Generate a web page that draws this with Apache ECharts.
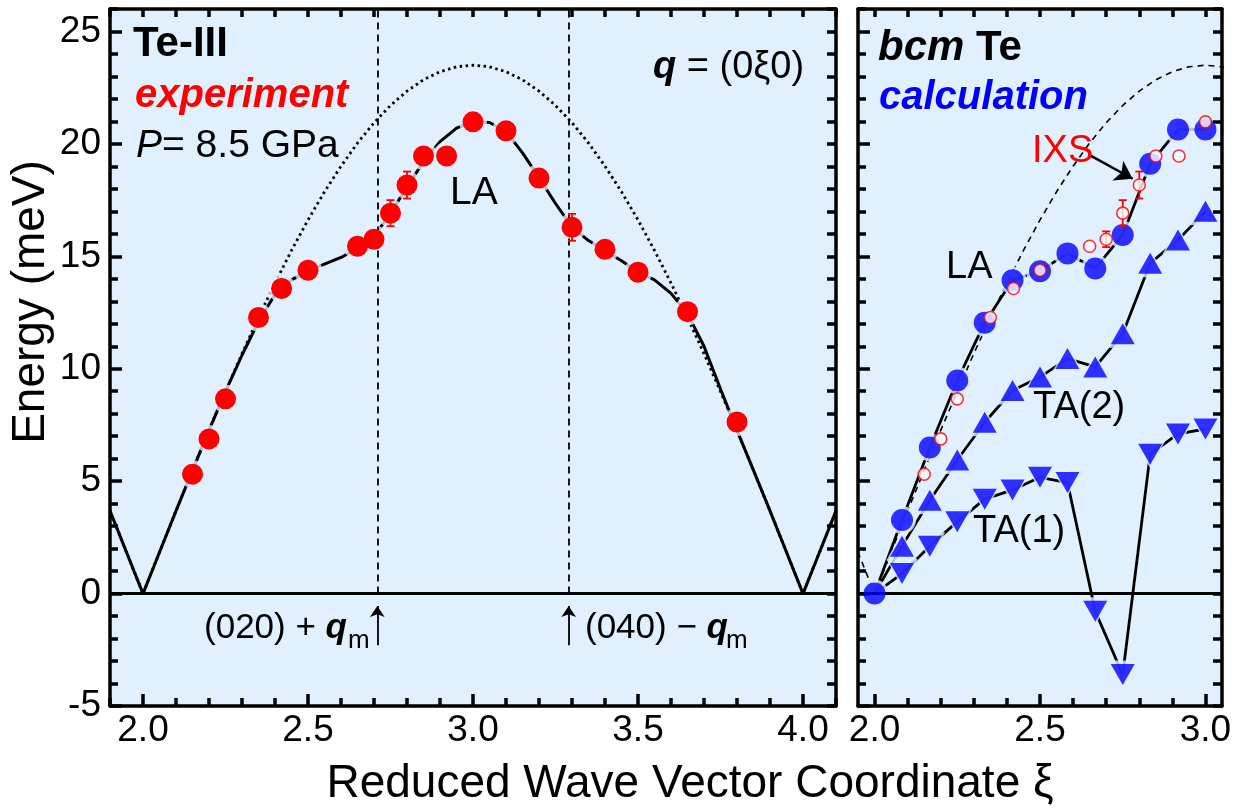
<!DOCTYPE html>
<html>
<head>
<meta charset="utf-8">
<script src="https://cdn.jsdelivr.net/npm/echarts@6/dist/echarts.min.js"></script>
<style>
  html, body { margin: 0; padding: 0; background: #fff; }
  #chart { width: 1237px; height: 809px; }
</style>
</head>
<body>
<div id="chart"></div>
<script>
// Te-III, IXS experiment at 8.5 GPa
const expXi  = [2.15, 2.2, 2.25, 2.35, 2.42, 2.5, 2.65, 2.7, 2.75, 2.8, 2.85, 2.92, 3.0, 3.1, 3.2, 3.3, 3.4, 3.5, 3.65, 3.8];
const expE   = [5.31, 6.88, 8.66, 12.28, 13.57, 14.38, 15.45, 15.76, 16.92, 18.17, 19.46, 19.46, 20.98, 20.58, 18.48, 16.29, 15.31, 14.29, 12.54, 7.63];
const expErr = [0, 0, 0, 0, 0, 0, 0, 0.35, 0.58, 0.6, 0, 0, 0, 0, 0, 0.6, 0, 0, 0.35, 0];

// LA line drawn through the experiment
const fitXi = [1.9, 2.0, 2.05, 2.1, 2.15, 2.2, 2.25, 2.3, 2.35, 2.4, 2.45, 2.5, 2.55, 2.6, 2.65, 2.7, 2.75, 2.8, 2.85, 2.9, 2.95, 3.0,
               3.05, 3.1, 3.15, 3.2, 3.25, 3.3, 3.35, 3.4, 3.45, 3.5, 3.55, 3.6, 3.65, 3.7, 3.75, 3.8, 3.85, 3.9, 3.95, 4.0, 4.05, 4.1];
const fitE  = [3.68, 0, 1.84, 3.68, 5.48, 7.26, 8.99, 10.6, 12.1, 13.3, 13.95, 14.35, 14.65, 14.95, 15.35, 15.9, 16.9, 18.1, 19.2, 20.1, 20.7, 21.0,
               20.95, 20.55, 19.6, 18.5, 17.35, 16.3, 15.7, 15.25, 14.8, 14.3, 13.95, 13.35, 12.45, 11.0, 9.1, 7.26, 5.48, 3.68, 1.84, 0, 1.84, 3.68];

// dotted (left) / dashed (right) reference dispersion
const sinXi = [1.9, 1.95, 2.0, 2.05, 2.1, 2.15, 2.2, 2.25, 2.3, 2.35, 2.4, 2.45, 2.5, 2.55, 2.6, 2.65, 2.7, 2.75, 2.8, 2.85, 2.9, 2.95, 3.0,
               3.05, 3.1, 3.15, 3.2, 3.25, 3.3, 3.35, 3.4, 3.45, 3.5, 3.55, 3.6, 3.65, 3.7, 3.75, 3.8, 3.85, 3.9, 3.95, 4.0, 4.05, 4.1];
const sinE  = [3.68, 1.84, 0, 1.84, 3.68, 5.48, 7.26, 8.99, 10.67, 12.28, 13.81, 15.26, 16.62, 17.87, 19.01, 20.04, 20.94, 21.71, 22.35, 22.85, 23.21, 23.43, 23.5,
               23.43, 23.21, 22.85, 22.35, 21.71, 20.94, 20.04, 19.01, 17.87, 16.62, 15.26, 13.81, 12.28, 10.67, 8.99, 7.26, 5.48, 3.68, 1.84, 0, 1.84, 3.68];

// bcm Te calculation
const calcXi  = [2.0, 2.083, 2.167, 2.25, 2.333, 2.417, 2.5, 2.583, 2.667, 2.75, 2.833, 2.917, 3.0];
const calcLA  = [0, 3.27, 6.5, 9.48, 12.05, 13.94, 14.34, 15.13, 14.46, 15.95, 19.12, 20.64, 20.64];
const calcTA2 = [0, 2.11, 4.15, 5.94, 7.62, 9.03, 9.63, 10.45, 10.08, 11.56, 14.69, 15.73, 17.0];
const calcTA1 = [0, 0.89, 2.11, 3.2, 4.2, 4.61, 5.17, 4.94, -0.79, -3.6, 6.2, 7.1, 7.32];

// (020)+qm and (040)-qm markers, IXS arrow
const qmXi = [2.71, 3.29];
const qmArrowE = [-2.3, -0.55];
const ixsArrow = [[2.65, 19.5], [2.78, 18.45]];

// axis labels
const xLabelsLeft = [2.0, 2.5, 3.0, 3.5, 4.0];
const xLabelsRight = [2.0, 2.5, 3.0];
const yLabels = [-5, 0, 5, 10, 15, 20, 25];

const FONT = '"Liberation Sans", Arial, sans-serif';
const BG = '#e0f0ff';
const RED = '#ff0000';
const BLUE = '#0000ff';
const Y_MIN = -5, Y_MAX = 26;
const X_LEFT = [1.9, 4.1], X_RIGHT = [1.95, 3.05];
const GRID_L = { left: 110, top: 9, width: 726, height: 697 };
const GRID_R = { left: 858, top: 9, width: 364, height: 697 };

function steps(a, b, d) {
  const out = [];
  for (let i = 0; a + i * d <= b + 1e-9; i++) out.push(+(a + i * d).toFixed(2));
  return out;
}
const pts = (xs, ys) => xs.map((x, i) => [x, ys[i]]);

const xMinorLeft = steps(1.9, 4.1, 0.1);
const xMinorRight = steps(2.0, 3.0, 0.1);
const yMinor = steps(-5, 26, 1);

const frame = { show: true, onZero: false, lineStyle: { color: '#000', width: 3.5 } };

function xAxes(grid, range, labels) {
  return [
    { type: 'value', gridIndex: grid, position: 'bottom', min: range[0], max: range[1], z: 10, axisLine: frame,
      splitLine: { show: false }, axisTick: { show: false },
      axisLabel: { customValues: labels, margin: 6, fontSize: 37, fontFamily: FONT, color: '#000',
                   formatter: v => v.toFixed(1) } },
    { type: 'value', gridIndex: grid, position: 'top', min: range[0], max: range[1], z: 10, axisLine: frame,
      splitLine: { show: false }, axisTick: { show: false }, axisLabel: { show: false } }
  ];
}

function yAxes(grid, withLabels) {
  return [
    { type: 'value', gridIndex: grid, position: 'left', min: Y_MIN, max: Y_MAX, z: 10, axisLine: frame, splitLine: { show: false },
      axisTick: { show: false },
      axisLabel: { show: withLabels, customValues: yLabels, margin: 9, fontSize: 37, fontFamily: FONT, color: '#000' } },
    { type: 'value', gridIndex: grid, position: 'right', min: Y_MIN, max: Y_MAX, z: 10, axisLine: frame, splitLine: { show: false },
      axisTick: { show: false }, axisLabel: { show: false } }
  ];
}

// inside ticks on all four sides as short mark lines (lengths given in pixels)
function tickLines(xRange, grid, xMinor, xMajor) {
  const dy = (Y_MAX - Y_MIN) / grid.height;
  const dx = (xRange[1] - xRange[0]) / grid.width;
  const st = { color: '#000', width: 3.5, type: 'solid', cap: 'butt' };
  const out = [];
  xMinor.forEach(v => {
    const len = xMajor.some(m => Math.abs(m - v) < 1e-6) ? 12 : 8;
    out.push([{ coord: [v, Y_MIN], lineStyle: st }, { coord: [v, Y_MIN + len * dy] }]);
    out.push([{ coord: [v, Y_MAX], lineStyle: st }, { coord: [v, Y_MAX - 8 * dy] }]);
  });
  yMinor.forEach(v => {
    const len = yLabels.indexOf(v) >= 0 ? 12 : 8;
    out.push([{ coord: [xRange[0], v], lineStyle: st }, { coord: [xRange[0] + len * dx, v] }]);
    out.push([{ coord: [xRange[1], v], lineStyle: st }, { coord: [xRange[1] - 9 * dx, v] }]);
  });
  return { silent: true, symbol: 'none', label: { show: false }, animation: false, data: out };
}

function errorBars(xi, yi, xs, ys, es, maxX) {
  const data = [];
  xs.forEach((x, i) => { if (es[i] > 0 && x <= maxX) data.push([x, ys[i], es[i]]); });
  return {
    type: 'custom', xAxisIndex: xi, yAxisIndex: yi, z: 6, silent: true, data,
    encode: { x: 0, y: 1 },
    renderItem: (params, api) => {
      const x = api.value(0), y = api.value(1), e = api.value(2);
      const t = api.coord([x, y + e]), b = api.coord([x, y - e]);
      const st = { stroke: RED, lineWidth: 1.8 };
      return { type: 'group', children: [
        { type: 'line', shape: { x1: t[0], y1: t[1], x2: b[0], y2: b[1] }, style: st },
        { type: 'line', shape: { x1: t[0] - 4, y1: t[1], x2: t[0] + 4, y2: t[1] }, style: st },
        { type: 'line', shape: { x1: b[0] - 4, y1: b[1], x2: b[0] + 4, y2: b[1] }, style: st }
      ]};
    }
  };
}

const ml = (pairs) => ({ silent: true, symbol: 'none', label: { show: false }, data: pairs });

const ixsRight = pts(expXi, expE).filter(p => p[0] <= 3.0);

const series = [
  // ---- left panel: Te-III experiment
  { type: 'line', xAxisIndex: 0, yAxisIndex: 0, z: 2, silent: true, symbol: 'none', data: pts(sinXi, sinE),
    lineStyle: { color: '#000', width: 2.8, type: [2.5, 3.5] } },
  { type: 'line', xAxisIndex: 0, yAxisIndex: 0, z: 2, silent: true, symbol: 'none', data: pts(fitXi, fitE),
    lineStyle: { color: '#000', width: 3 },
    markLine: ml([
      { yAxis: 0, lineStyle: { color: '#000', width: 2.8, type: 'solid' } },
      [{ coord: [qmXi[0], 0], lineStyle: { color: '#000', width: 1.8, type: [7, 5] } }, { coord: [qmXi[0], Y_MAX] }],
      [{ coord: [qmXi[1], 0], lineStyle: { color: '#000', width: 1.8, type: [7, 5] } }, { coord: [qmXi[1], Y_MAX] }],
      [{ coord: [qmXi[0], qmArrowE[0]], symbol: 'none', lineStyle: { color: '#000', width: 1.8, type: 'solid' } },
       { coord: [qmXi[0], qmArrowE[1]], symbol: 'arrow', symbolSize: 11 }],
      [{ coord: [qmXi[1], qmArrowE[0]], symbol: 'none', lineStyle: { color: '#000', width: 1.8, type: 'solid' } },
       { coord: [qmXi[1], qmArrowE[1]], symbol: 'arrow', symbolSize: 11 }]
    ]) },
  { type: 'scatter', xAxisIndex: 0, yAxisIndex: 0, z: 3, silent: true, data: pts(expXi, expE),
    symbolSize: 28, itemStyle: { color: BG } },
  errorBars(0, 0, expXi, expE, expErr, 5),
  { type: 'scatter', xAxisIndex: 0, yAxisIndex: 0, z: 7, silent: true, data: pts(expXi, expE),
    symbolSize: 21, itemStyle: { color: RED, opacity: 1 } },
  { type: 'line', xAxisIndex: 0, yAxisIndex: 0, z: 9, silent: true, symbol: 'none', data: pts(fitXi, fitE),
    lineStyle: { opacity: 0 }, markLine: tickLines(X_LEFT, GRID_L, xMinorLeft, xLabelsLeft) },

  // ---- right panel: bcm Te calculation
  { type: 'line', xAxisIndex: 2, yAxisIndex: 2, z: 2, silent: true, symbol: 'none', data: pts(sinXi, sinE),
    lineStyle: { color: '#000', width: 1.6, type: [6, 5] } },
  { type: 'line', xAxisIndex: 2, yAxisIndex: 2, z: 2, silent: true, symbol: 'none', data: pts(calcXi, calcLA),
    lineStyle: { color: '#000', width: 2.8 },
    markLine: ml([
      { yAxis: 0, lineStyle: { color: '#000', width: 2.8, type: 'solid' } },
      [{ coord: ixsArrow[0], symbol: 'none', lineStyle: { color: '#000', width: 2.5, type: 'solid' } },
       { coord: ixsArrow[1], symbol: 'arrow', symbolSize: 17 }]
    ]) },
  { type: 'line', xAxisIndex: 2, yAxisIndex: 2, z: 2, silent: true, symbol: 'none', data: pts(calcXi, calcTA2),
    lineStyle: { color: '#000', width: 2.8 } },
  { type: 'line', xAxisIndex: 2, yAxisIndex: 2, z: 2, silent: true, symbol: 'none', data: pts(calcXi, calcTA1),
    lineStyle: { color: '#000', width: 2.8 } },
  { type: 'scatter', xAxisIndex: 2, yAxisIndex: 2, z: 3, silent: true, data: pts(calcXi, calcLA),
    symbolSize: 28, itemStyle: { color: BG } },
  { type: 'scatter', xAxisIndex: 2, yAxisIndex: 2, z: 3, silent: true, data: pts(calcXi, calcTA2).slice(1),
    symbol: 'triangle', symbolSize: [31, 28], itemStyle: { color: BG } },
  { type: 'scatter', xAxisIndex: 2, yAxisIndex: 2, z: 3, silent: true, data: pts(calcXi, calcTA1).slice(1),
    symbol: 'triangle', symbolRotate: 180, symbolSize: [31, 28], itemStyle: { color: BG } },
  { type: 'scatter', xAxisIndex: 2, yAxisIndex: 2, z: 5, silent: true, data: pts(calcXi, calcTA2).slice(1),
    symbol: 'triangle', symbolSize: [24, 21], itemStyle: { color: BLUE } },
  { type: 'scatter', xAxisIndex: 2, yAxisIndex: 2, z: 5, silent: true, data: pts(calcXi, calcTA1).slice(1),
    symbol: 'triangle', symbolRotate: 180, symbolSize: [24, 21], itemStyle: { color: BLUE } },
  { type: 'scatter', xAxisIndex: 2, yAxisIndex: 2, z: 5, silent: true, data: pts(calcXi, calcLA),
    symbolSize: 22, itemStyle: { color: BLUE } },
  errorBars(2, 2, expXi, expE, expErr, 3.0),
  { type: 'scatter', xAxisIndex: 2, yAxisIndex: 2, z: 7, silent: true, data: ixsRight,
    symbolSize: 12, itemStyle: { color: '#fff', borderColor: RED, borderWidth: 1.6 } },
  { type: 'line', xAxisIndex: 2, yAxisIndex: 2, z: 9, silent: true, symbol: 'none', data: pts(calcXi, calcLA),
    lineStyle: { opacity: 0 }, markLine: tickLines(X_RIGHT, GRID_R, xMinorRight, xLabelsRight) }
];

function txt(text, x, y, font, fill, extra) {
  return {
    type: 'text', z: 100, silent: true,
    style: Object.assign({ text, x, y, font: font + ' ' + FONT, fill: fill || '#000',
      align: 'left', textAlign: 'left', verticalAlign: 'middle', textVerticalAlign: 'middle' }, extra || {})
  };
}
const tok = (font, fill) => ({ font: font + ' ' + FONT, fill: fill || '#000' });

const graphic = [
  txt('Te-III', 133, 44, 'bold 42px'),
  txt('experiment', 135, 96, 'italic bold 40px', RED),
  txt('{i|P}= 8.5 GPa', 136, 146, '39px', '#000', { rich: { i: tok('italic 39px') } }),
  txt('LA', 450, 193, '39px'),
  txt('{q|q} = (0ξ0)', 653, 68, '38px', '#000', { rich: { q: tok('italic bold 38px') } }),
  txt('(020) + {q|q}', 347, 628, '35px', '#000', { align: 'right', textAlign: 'right', rich: { q: tok('italic bold 35px') } }),
  txt('m', 348, 641, '26px'),
  txt('(040) − {q|q}', 585, 628, '35px', '#000', { rich: { q: tok('italic bold 35px') } }),
  txt('m', 726, 641, '26px'),
  txt('{b|bcm} Te', 878, 48, 'bold 42px', '#000', { rich: { b: tok('italic bold 42px') } }),
  txt('calculation', 879, 98, 'italic bold 40px', BLUE),
  txt('IXS', 1032, 152, '38px', RED),
  txt('LA', 946, 268, '38px'),
  txt('TA(2)', 1033, 408, '38px'),
  txt('TA(1)', 973, 532, '38px'),
  { type: 'text', z: 100, silent: true, x: 31, y: 302, rotation: Math.PI / 2,
    style: { text: 'Energy (meV)', x: 0, y: 0, font: '46px ' + FONT, fill: '#000',
             align: 'center', textAlign: 'center', verticalAlign: 'middle', textVerticalAlign: 'middle' } },
  txt('Reduced Wave Vector Coordinate ξ', 690, 784, '46px', '#000', { align: 'center', textAlign: 'center' })
];

const chart = echarts.init(document.getElementById('chart'), null, { renderer: 'canvas' });
chart.setOption({
  animation: false,
  backgroundColor: '#fff',
  grid: [
    Object.assign({ show: true, backgroundColor: BG, borderWidth: 0, z: 0 }, GRID_L),
    Object.assign({ show: true, backgroundColor: BG, borderWidth: 0, z: 0 }, GRID_R)
  ],
  xAxis: xAxes(0, X_LEFT, xLabelsLeft).concat(xAxes(1, X_RIGHT, xLabelsRight)),
  yAxis: yAxes(0, true).concat(yAxes(1, false)),
  series,
  graphic
});
</script>
</body>
</html>
